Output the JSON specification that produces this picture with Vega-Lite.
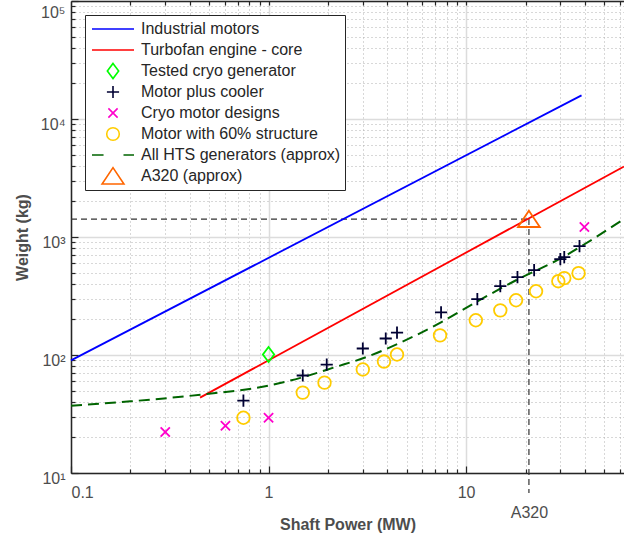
{
  "$schema": "https://vega.github.io/schema/vega-lite/v6.json",
  "width": 553,
  "height": 472,
  "autosize": {"type": "none"},
  "padding": {"left": 71, "top": 1, "right": 0, "bottom": 66},
  "background": "white",
  "config": {
    "view": {"stroke": null},
    "font": "Liberation Sans",
    "axis": {
      "labelFont": "Liberation Sans",
      "labelFontSize": 16,
      "labelColor": "#4d4d4d",
      "titleFont": "Liberation Sans",
      "titleFontSize": 16,
      "titleFontWeight": "bold",
      "titleColor": "#4d4d4d",
      "domainColor": "#262626",
      "domainWidth": 1.5,
      "tickColor": "#262626",
      "tickWidth": 1.2
    },
    "legend": {
      "orient": "none",
      "legendX": 14,
      "legendY": 14,
      "padding": 4,
      "strokeColor": "#262626",
      "fillColor": "white",
      "symbolSize": 1764,
      "symbolStrokeWidth": 1.6,
      "symbolOffset": 2,
      "labelFont": "Liberation Sans",
      "labelFontSize": 16,
      "labelColor": "#262626",
      "labelLimit": 400,
      "clipHeight": 20,
      "rowPadding": 1,
      "labelOffset": 6
    }
  },
  "datasets": {
    "refs": [{"Pleft": 0.1, "P": 20.8, "W": 1420, "Wlow": 6.76}],
    "lines": [
      {"series": "Industrial motors", "P": 0.1, "W": 90},
      {"series": "Industrial motors", "P": 38.4, "W": 15850},
      {"series": "Turbofan engine - core", "P": 0.45, "W": 43.5},
      {"series": "Turbofan engine - core", "P": 63, "W": 3960}
    ],
    "hts": [
      {"series": "All HTS generators (approx)", "P": 0.1, "W": 37.2},
      {"series": "All HTS generators (approx)", "P": 0.2, "W": 40.5},
      {"series": "All HTS generators (approx)", "P": 0.452, "W": 46.1},
      {"series": "All HTS generators (approx)", "P": 1.0, "W": 55},
      {"series": "All HTS generators (approx)", "P": 1.45, "W": 64},
      {"series": "All HTS generators (approx)", "P": 2.14, "W": 78.3},
      {"series": "All HTS generators (approx)", "P": 3.18, "W": 97},
      {"series": "All HTS generators (approx)", "P": 4.68, "W": 128},
      {"series": "All HTS generators (approx)", "P": 7.46, "W": 189},
      {"series": "All HTS generators (approx)", "P": 11.2, "W": 280},
      {"series": "All HTS generators (approx)", "P": 17.9, "W": 430},
      {"series": "All HTS generators (approx)", "P": 30.4, "W": 665},
      {"series": "All HTS generators (approx)", "P": 38.4, "W": 838},
      {"series": "All HTS generators (approx)", "P": 63, "W": 1423}
    ],
    "points": [
      {"series": "Tested cryo generator", "P": 1.0, "W": 101},
      {"series": "Motor plus cooler", "P": 0.746, "W": 41},
      {"series": "Motor plus cooler", "P": 1.49, "W": 67},
      {"series": "Motor plus cooler", "P": 1.97, "W": 83},
      {"series": "Motor plus cooler", "P": 3.0, "W": 113.5},
      {"series": "Motor plus cooler", "P": 3.92, "W": 138},
      {"series": "Motor plus cooler", "P": 4.47, "W": 155},
      {"series": "Motor plus cooler", "P": 7.47, "W": 230},
      {"series": "Motor plus cooler", "P": 11.4, "W": 297},
      {"series": "Motor plus cooler", "P": 14.9, "W": 383},
      {"series": "Motor plus cooler", "P": 18.2, "W": 457},
      {"series": "Motor plus cooler", "P": 22.1, "W": 524},
      {"series": "Motor plus cooler", "P": 30.0, "W": 650},
      {"series": "Motor plus cooler", "P": 31.4, "W": 676},
      {"series": "Motor plus cooler", "P": 37.5, "W": 838},
      {"series": "Cryo motor designs", "P": 0.30, "W": 22.3},
      {"series": "Cryo motor designs", "P": 0.605, "W": 25.1},
      {"series": "Cryo motor designs", "P": 1.0, "W": 29.4},
      {"series": "Cryo motor designs", "P": 39.7, "W": 1216},
      {"series": "Motor with 60% structure", "P": 0.746, "W": 29.4},
      {"series": "Motor with 60% structure", "P": 1.49, "W": 48},
      {"series": "Motor with 60% structure", "P": 1.92, "W": 58.3},
      {"series": "Motor with 60% structure", "P": 3.0, "W": 75.4},
      {"series": "Motor with 60% structure", "P": 3.84, "W": 88},
      {"series": "Motor with 60% structure", "P": 4.47, "W": 101},
      {"series": "Motor with 60% structure", "P": 7.38, "W": 146.6},
      {"series": "Motor with 60% structure", "P": 11.2, "W": 197},
      {"series": "Motor with 60% structure", "P": 14.9, "W": 239},
      {"series": "Motor with 60% structure", "P": 17.9, "W": 291},
      {"series": "Motor with 60% structure", "P": 22.6, "W": 347},
      {"series": "Motor with 60% structure", "P": 29.3, "W": 422},
      {"series": "Motor with 60% structure", "P": 31.4, "W": 448},
      {"series": "Motor with 60% structure", "P": 37.1, "W": 494},
      {"series": "A320 (approx)", "P": 20.8, "W": 1420}
    ]
  },
  "layer": [
    {
      "data": {"name": "refs"},
      "mark": {"type": "rule", "color": "#333333", "strokeWidth": 1.2, "strokeDash": [6, 4]},
      "encoding": {
        "x": {"field": "Pleft", "type": "quantitative", "scale": {"type": "log", "domain": [0.1, 63], "nice": false},
          "axis": {"orient": "bottom", "values": [0.2,0.3,0.4,0.5,0.6,0.7,0.8,0.9,2,3,4,5,6,7,8,9,20,30,40,50,60], "grid": true, "gridDash": [1, 3], "gridColor": "#b0b0b0", "gridWidth": 1, "ticks": true, "tickSize": -4, "labels": false, "domain": false, "title": null}},
        "x2": {"field": "P"},
        "y": {"field": "W", "type": "quantitative", "scale": {"type": "log", "domain": [10, 100000], "nice": false},
          "axis": {"orient": "left", "values": [20,30,40,50,60,70,80,90,200,300,400,500,600,700,800,900,2000,3000,4000,5000,6000,7000,8000,9000,20000,30000,40000,50000,60000,70000,80000,90000], "grid": true, "gridDash": [1, 3], "gridColor": "#b0b0b0", "gridWidth": 1, "ticks": true, "tickSize": -4, "labels": false, "domain": false, "title": null}}
      }
    },
    {
      "data": {"name": "refs"},
      "mark": {"type": "rule", "color": "#333333", "strokeWidth": 1.2, "strokeDash": [6, 4], "clip": false},
      "encoding": {
        "x": {"field": "P", "type": "quantitative", "scale": {"type": "log", "domain": [0.1, 63], "nice": false},
          "axis": {"orient": "bottom", "values": [0.1, 1, 10], "grid": true, "gridColor": "#dcdcdc", "gridWidth": 1.5, "ticks": true, "tickSize": -7, "labels": false, "domain": true, "title": null}},
        "y": {"field": "W", "type": "quantitative", "scale": {"type": "log", "domain": [10, 100000], "nice": false},
          "axis": {"orient": "left", "values": [10, 100, 1000, 10000, 100000], "grid": true, "gridColor": "#dcdcdc", "gridWidth": 1.5, "ticks": true, "tickSize": -7, "labels": false, "domain": true, "title": null}},
        "y2": {"field": "Wlow"}
      }
    },
    {
      "data": {"name": "lines"},
      "transform": [{"filter": "datum.series === 'Industrial motors'"}],
      "mark": {"type": "line", "strokeWidth": 1.8},
      "encoding": {
        "x": {"field": "P", "type": "quantitative", "scale": {"type": "log", "domain": [0.1, 63], "nice": false},
          "axis": {"orient": "bottom", "values": [0.1, 1, 10], "format": "~g", "grid": false, "ticks": false, "domain": false, "labelPadding": 11, "labelBaseline": "top", "title": "Shaft Power (MW)", "titleY": 56, "titleBaseline": "alphabetic"}},
        "y": {"field": "W", "type": "quantitative", "scale": {"type": "log", "domain": [10, 100000], "nice": false},
          "axis": {"orient": "left", "values": [10, 100, 1000, 10000, 100000], "labelExpr": "'10' + ['⁰','¹','²','³','⁴','⁵'][round(log(datum.value)/LN10)]", "grid": false, "ticks": false, "domain": false, "labelPadding": 6, "labelOffset": {"condition": {"test": "datum.value >= 100000", "value": 11}, "value": 5}, "title": "Weight (kg)", "titleX": -49, "titleY": 236, "titleAngle": -90, "titleBaseline": "middle", "titleAlign": "center"}},
        "stroke": {"field": "series", "type": "nominal", "title": null,
          "scale": {"domain": ["Industrial motors", "Turbofan engine - core", "Tested cryo generator", "Motor plus cooler", "Cryo motor designs", "Motor with 60% structure", "All HTS generators (approx)", "A320 (approx)"],
                    "range": ["#0000ff", "#ff0000", "#00ff00", "#000033", "#ff00cc", "#ffcc00", "#006400", "#ff6600"]},
          "legend": {"encode": {"symbols": {"update": {"fill": {"value": "transparent"}, "strokeWidth": {"value": 1.6}, "opacity": {"value": 1}}}}}}
      }
    },
    {
      "data": {"name": "lines"},
      "transform": [{"filter": "datum.series === 'Turbofan engine - core'"}],
      "mark": {"type": "line", "strokeWidth": 1.8},
      "encoding": {
        "x": {"field": "P", "type": "quantitative", "scale": {"type": "log", "domain": [0.1, 63], "nice": false},
          "axis": {"orient": "bottom", "values": [20.8], "labelExpr": "'A320'", "grid": false, "ticks": false, "domain": false, "labelPadding": 31, "labelBaseline": "top", "title": null}},
        "y": {"field": "W", "type": "quantitative", "scale": {"type": "log", "domain": [10, 100000], "nice": false}, "axis": null},
        "stroke": {"field": "series", "type": "nominal", "title": null,
          "legend": {"encode": {"symbols": {"update": {"fill": {"value": "transparent"}, "strokeWidth": {"value": 1.6}, "opacity": {"value": 1}}}}}}
      }
    },
    {
      "data": {"name": "hts"},
      "mark": {"type": "line", "strokeWidth": 2, "strokeDash": [11, 6], "interpolate": "monotone"},
      "encoding": {
        "x": {"field": "P", "type": "quantitative", "scale": {"type": "log", "domain": [0.1, 63], "nice": false},
          "axis": {"orient": "top", "values": [0.2,0.3,0.4,0.5,0.6,0.7,0.8,0.9,1,2,3,4,5,6,7,8,9,10,20,30,40,50,60], "grid": false, "ticks": true, "tickSize": -4, "labels": false, "domain": true, "title": null}},
        "y": {"field": "W", "type": "quantitative", "scale": {"type": "log", "domain": [10, 100000], "nice": false}, "axis": null},
        "stroke": {"field": "series", "type": "nominal", "title": null,
          "legend": {"encode": {"symbols": {"update": {"fill": {"value": "transparent"}, "strokeWidth": {"value": 1.6}, "opacity": {"value": 1}}}}}}
      }
    },
    {
      "data": {"name": "points"},
      "mark": {"type": "point", "filled": false, "size": 1764, "strokeWidth": 1.8, "opacity": 1},
      "encoding": {
        "x": {"field": "P", "type": "quantitative", "scale": {"type": "log", "domain": [0.1, 63], "nice": false}, "axis": null},
        "y": {"field": "W", "type": "quantitative", "scale": {"type": "log", "domain": [10, 100000], "nice": false}, "axis": null},
        "stroke": {"field": "series", "type": "nominal", "title": null,
          "legend": {"encode": {"symbols": {"update": {"fill": {"value": "transparent"}, "strokeWidth": {"value": 1.6}, "opacity": {"value": 1}}}}}},
        "shape": {"field": "series", "type": "nominal", "title": null,
          "scale": {"domain": ["Industrial motors", "Turbofan engine - core", "Tested cryo generator", "Motor plus cooler", "Cryo motor designs", "Motor with 60% structure", "All HTS generators (approx)", "A320 (approx)"],
                    "range": ["stroke", "stroke", "M0,-0.36L0.27,0L0,0.36L-0.27,0Z", "M-0.29,0H0.29M0,-0.29V0.29", "M-0.22,-0.22L0.22,0.22M-0.22,0.22L0.22,-0.22", "M0.3,0A0.3,0.3,0,1,1,-0.3,0A0.3,0.3,0,1,1,0.3,0Z", "M-1,0H-0.45M0.5,0H1", "M0,-0.4L0.52,0.38L-0.52,0.38Z"]},
          "legend": {"encode": {"symbols": {"update": {"fill": {"value": "transparent"}, "strokeWidth": {"value": 1.6}, "opacity": {"value": 1}}}}}}
      }
    }
  ],
  "resolve": {"axis": {"x": "independent", "y": "independent"}}
}
